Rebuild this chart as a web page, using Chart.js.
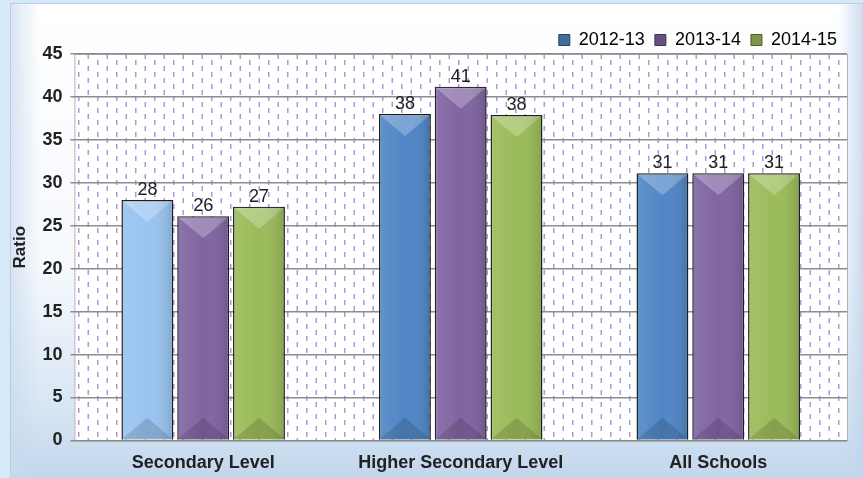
<!DOCTYPE html>
<html>
<head>
<meta charset="utf-8">
<script src="https://cdn.jsdelivr.net/npm/chart.js@4/dist/chart.umd.min.js"></script>
<style>
  html, body { margin: 0; padding: 0; background: #d5e9f8; }
  #wrap { width: 863px; height: 478px; }
</style>
</head>
<body>
<div id="wrap"><canvas id="c" width="863" height="478"></canvas></div>
<script>
// 数据
const categories = ['Secondary Level', 'Higher Secondary Level', 'All Schools'];
const seriesNames = ['2012-13', '2013-14', '2014-15'];
const values2012 = [28.0, 38.0, 31.1];
const values2013 = [26.1, 41.2, 31.1];
const values2014 = [27.2, 37.9, 31.1];
const yTicks = [0, 5, 10, 15, 20, 25, 30, 35, 40, 45];

// 颜色
const baseColors = ['#4f86c6', '#8064a2', '#9bbb59'];
const firstBarColor = '#98c4f0';
const FONT = '"Liberation Sans", Arial, sans-serif';

function shade(hex, amt) {
    let n = parseInt(hex.slice(1), 16);
    let r = (n >> 16) & 255, g = (n >> 8) & 255, b = n & 255;
    const f = c => Math.max(0, Math.min(255, Math.round(amt > 0 ? c + (255 - c) * amt : c * (1 + amt))));
    return 'rgb(' + f(r) + ',' + f(g) + ',' + f(b) + ')';
}

// 背景图案
function makePattern(ctx) {
    const p = document.createElement('canvas');
    p.width = 19; p.height = 12;
    const pc = p.getContext('2d');
    pc.fillStyle = '#ffffff';
    pc.fillRect(0, 0, 19, 12);
    pc.fillStyle = '#b095d8';
    pc.fillRect(2, 0, 1.5, 5);
    pc.fillRect(11.5, 6, 1.5, 5);
    return ctx.createPattern(p, 'repeat');
}

const backgroundPlugin = {
    id: 'bg',
    beforeDraw(chart) {
        const ctx = chart.ctx;
        const W = chart.width, H = chart.height;
        ctx.save();
        ctx.fillStyle = '#d5e9f8';
        ctx.fillRect(0, 0, W, H);
        let g = ctx.createLinearGradient(0, 3, 0, H);
        g.addColorStop(0, '#ffffff');
        g.addColorStop(0.55, '#f6f9fd');
        g.addColorStop(0.85, '#d8e6f4');
        g.addColorStop(1, '#c2d6ec');
        ctx.fillStyle = g;
        ctx.fillRect(10, 3, W - 10, H - 3);
        let g2 = ctx.createLinearGradient(W - 25, 0, W, 0);
        g2.addColorStop(0, 'rgba(200,218,238,0)');
        g2.addColorStop(1, 'rgba(190,212,236,0.8)');
        ctx.fillStyle = g2;
        ctx.fillRect(W - 25, 3, 25, H - 3);
        let g3 = ctx.createLinearGradient(10, 0, 40, 0);
        g3.addColorStop(0, 'rgba(200,218,238,0.7)');
        g3.addColorStop(1, 'rgba(200,218,238,0)');
        ctx.fillStyle = g3;
        ctx.fillRect(10, 3, 30, H - 3);
        ctx.strokeStyle = '#b8cde3';
        ctx.lineWidth = 1;
        ctx.strokeRect(10.5, 3.5, W - 10, H - 3);
        const a = chart.chartArea;
        ctx.fillStyle = makePattern(ctx);
        ctx.fillRect(a.left, a.top, a.right - a.left, a.bottom - a.top);
        ctx.strokeStyle = '#b0b0b0';
        ctx.strokeRect(a.left + 0.5, a.top + 0.5, a.right - a.left, a.bottom - a.top);
        ctx.restore();
    }
};

// 柱子立体效果 + 数值标签
const bevelPlugin = {
    id: 'bevel',
    afterDatasetsDraw(chart) {
        const ctx = chart.ctx;
        ctx.save();
        chart.data.datasets.forEach((ds, di) => {
            const meta = chart.getDatasetMeta(di);
            meta.data.forEach((bar, i) => {
                const w = bar.width, l = bar.x - w / 2, r = bar.x + w / 2;
                const t = bar.y, b = bar.base;
                const d = Math.min(22, (b - t) / 2);
                ctx.fillStyle = 'rgba(255,255,255,0.25)';
                ctx.beginPath();
                ctx.moveTo(l + 1, t + 1); ctx.lineTo(r - 1, t + 1); ctx.lineTo(bar.x, t + d);
                ctx.closePath(); ctx.fill();
                ctx.fillStyle = 'rgba(0,0,0,0.14)';
                ctx.beginPath();
                ctx.moveTo(l + 1, b - 1); ctx.lineTo(r - 1, b - 1); ctx.lineTo(bar.x, b - d);
                ctx.closePath(); ctx.fill();
                let hg = ctx.createLinearGradient(l, 0, r, 0);
                hg.addColorStop(0, 'rgba(255,255,255,0.10)');
                hg.addColorStop(0.5, 'rgba(255,255,255,0)');
                hg.addColorStop(1, 'rgba(0,0,0,0.14)');
                ctx.fillStyle = hg;
                ctx.fillRect(l + 1, t + 1, w - 2, b - t - 2);
                // 标签
                ctx.fillStyle = '#222222';
                ctx.font = '18px ' + FONT;
                ctx.textAlign = 'center';
                ctx.textBaseline = 'bottom';
                ctx.fillText(String(Math.round(ds.data[i])), bar.x, t - 1);
            });
        });
        ctx.restore();
    }
};

const allValues = [values2012, values2013, values2014];
const datasets = seriesNames.map((name, idx) => ({
    label: name,
    data: allValues[idx],
    backgroundColor: allValues[idx].map((v, i) => (idx === 0 && i === 0) ? firstBarColor : baseColors[idx]),
    borderColor: '#1e1e1e',
    borderWidth: 1.5,
    categoryPercentage: 0.65,
    barPercentage: 0.93
}));

const ctx = document.getElementById('c').getContext('2d');
new Chart(ctx, {
    type: 'bar',
    data: { labels: categories, datasets: datasets },
    plugins: [backgroundPlugin, bevelPlugin],
    options: {
        responsive: false,
        animation: false,
        layout: { padding: { left: 10, right: 16, top: 21, bottom: 0 } },
        plugins: {
            tooltip: { enabled: false },
            legend: {
                position: 'top',
                align: 'end',
                maxHeight: 33,
                labels: {
                    color: '#222222',
                    font: { size: 18, family: FONT },
                    boxWidth: 11,
                    boxHeight: 11,
                    padding: 10,
                    generateLabels: (chart) => seriesNames.map((n, i) => ({
                        text: n,
                        fillStyle: shade(baseColors[i], -0.2),
                        strokeStyle: shade(baseColors[i], -0.5),
                        lineWidth: 1,
                        datasetIndex: i
                    }))
                }
            }
        },
        scales: {
            x: {
                grid: { display: false },
                border: { display: false },
                ticks: {
                    color: '#222222',
                    font: { size: 18, weight: 'bold', family: FONT },
                    padding: 4
                }
            },
            y: {
                min: 0,
                max: 45,
                afterBuildTicks: (axis) => { axis.ticks = yTicks.map(v => ({ value: v })); },
                grid: { color: '#8c8c8c', lineWidth: 1.5, tickLength: 4 },
                border: { display: false },
                ticks: {
                    color: '#222222',
                    font: { size: 18, weight: 'bold', family: FONT },
                    padding: 8
                },
                title: {
                    display: true,
                    text: 'Ratio',
                    color: '#222222',
                    font: { size: 17, weight: 'bold', family: FONT },
                    padding: { top: 0, bottom: 4 }
                }
            }
        }
    }
});
</script>
</body>
</html>
